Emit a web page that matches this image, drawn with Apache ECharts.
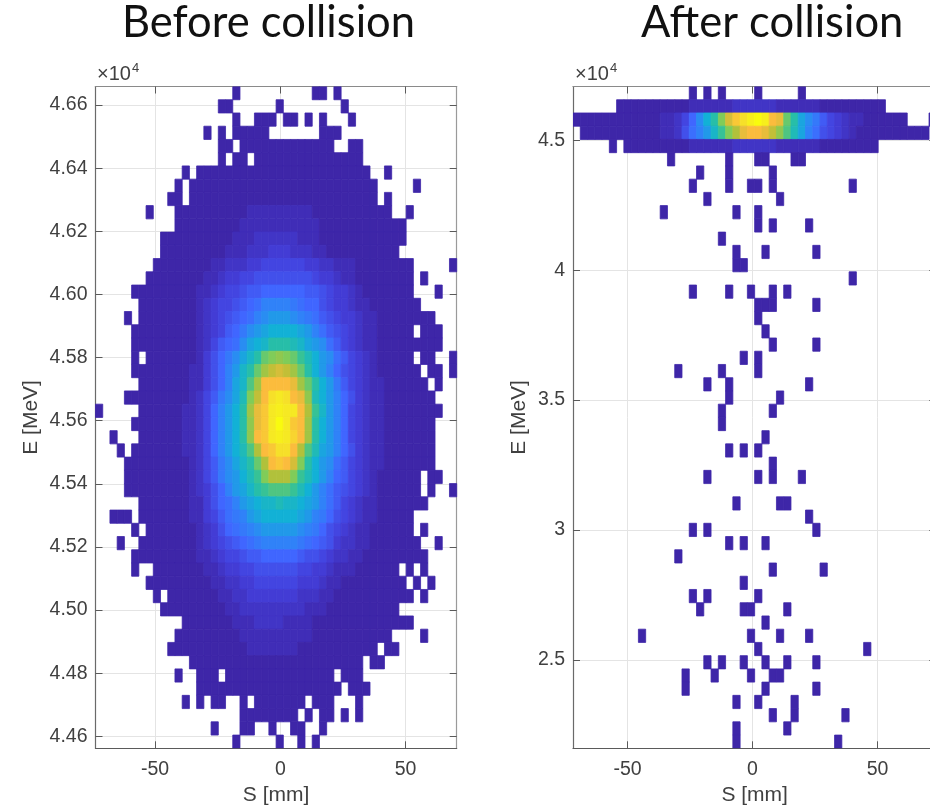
<!DOCTYPE html>
<html>
<head>
<meta charset="utf-8">
<style>html,body{margin:0;padding:0;background:#fff;overflow:hidden}#c{width:930px;height:807px}</style>
<script src="https://cdn.jsdelivr.net/npm/echarts@6/dist/echarts.min.js"></script>
</head>
<body>
<div id="c"></div>
<script>
// axis ranges (S in mm, E in MeV) and 50x50 histogram bins
const binCount = 50;
const beforeXRange = [-73.8, 70.4];
const beforeYRange = [44562, 46659];
const afterXRange = [-71.8, 73.5];
const afterYRange = [21604, 47065];

const xTicks = [-50, 0, 50];
const beforeYTicks = [44600, 44800, 45000, 45200, 45400, 45600, 45800, 46000, 46200, 46400, 46600];
const afterYTicks = [25000, 30000, 35000, 40000, 45000];

const colormap = ['#3e26a8', '#4440dc', '#4066ff', '#2d87f7', '#12b1d6', '#2bc0a0',
  '#80cc59', '#b9bf36', '#fbbc3d', '#f5e626', '#f9fb0e'];
const maxLevel = 35;

// occupied columns of each histogram row, top row first
const beforeCols = [
  "19 30-31 33", "17-18 25 34", "19 22-24 26-27 29 31 35", "15 17 19-23 31-33", "17-18 20-32 35-36",
  "17 19-20 22-36", "12 14-37 40", "11 13-38 44", "10-11 13-38 40", "7 11-40 43",
  "11-42", "9-42", "9-41", "8-43 49", "7-43 45",
  "5-43 47", "6-44", "4 6-46", "5-43 45-47", "5-47",
  "5 7-43 45-46 49", "5-44 46-47 49", "6-45 47", "4-46", "0 6-47",
  "5-46", "2 6-46", "3 5-46", "4-46", "4-44 46-47",
  "4-44 46 49", "6-45", "2-4 6-43", "5 7-43 45", "3 6-44 47",
  "5-45", "5 8-41 43 45", "7-42 44 46", "8 10-43 45", "9-41",
  "12-43", "11-40 45", "10-38 40-41", "13-36 38-39", "11 14-16 18-32 34-36",
  "14-33 35-37", "12 14 16-17 20 22-28 30-32 36", "20-27 29 31-32 34 36", "16 20-21 24 27-28 31", "19 25 28 30"
];

// colour level per cell in base 36 (0 darkest, z peak), starting at column 10
const levelStartCol = 10;
const beforeLevels = [
  "", "", "", "", "", "", "", "", "",
  "00000 00000 01111 11111 00000",
  "00000 00000 11111 11111 10000",
  "00000 00001 11222 22211 10000",
  "00000 00011 12223 33222 11000 00000",
  "00000 01122 23344 44443 32211 10000",
  "00000 11233 44555 55555 43321 10000",
  "00001 12344 56677 77776 65433 21000",
  "00001 23445 678aa aa987 75433 21100",
  "00001 23456 78abc ccba9 86543 32110",
  "00001 23467 9bcde eeedc a8654 32110",
  "00001 24678 bdefh hhgfd cb864 32110",
  "00001 3579b dfhkl mlkig ecb86 43210 00",
  "00011 357ac fhknp qpnkh eca75 43210 00",
  "00011 357ad fjnss ssrnk hec96 43211",
  "00012 469bd glpsv wvsrm geca7 53211",
  "00112 47ace hnrtw xwwso ifca7 43211",
  "00112 47ace hmrtw zwtsn heca7 43211",
  "00112 47ace hmstw xwusn heca7 43211",
  "00112 47ace gjost vvsoj gdca7 53211",
  "00012 469bd fhkos tsqlh ecb86 43211",
  "00012 469bc egilo oolig eca76 43210",
  "00012 357ac dfhij jjige ca865 43210",
  "00011 3578a cdeff gffed ca864 32110",
  "00011 34689 acdee eeedc a9754 32110",
  "00001 23578 9abcc cccba 97543 21100",
  "00001 23456 789aa aaa98 76532 21100",
  "00001 12344 56677 77765 54322 11000",
  "00000 11233 44555 55544 33211 10000",
  "00000 01122 33444 44433 32110 00000",
  "00000 00112 23333 33322 21100 00000",
  "00000 00011 22222 22221 11000 00000",
  "00000 00001 11222 21111 00000",
  "00000 00000 11111 11111 00000",
  "00000 00000 01111 11100 00000"
];

const afterCols = [
  "16 18 20 25 31", "6-42", "0-45 49", "1-48", "5 7-41",
  "13 21 25-26 30-31", "17 21 27", "16 21 24-25 27 38", "18 28", "12 22 25",
  "25 27 32", "20", "22 26 33", "22-23", "38",
  "16 21 24 27 29", "25-27 33", "25", "26", "27 33",
  "23 25", "14 20 25", "18 21 32", "21 28", "20 27",
  "20", "26", "21 23 25", "27", "18 25 27 31",
  "", "22 28-29", "32", "16 18 33", "21 23 26",
  "14", "27 34", "23", "16 18 25", "17 23-24 29",
  "26", "9 24 28 32", "25 40", "18 20 23 26 29 33", "15 19 24 27-28",
  "15 26 33", "22 25 30", "27 30 37", "22 29", "22 36"
];

const afterLevels = [
  "",
  "00000 01111 11222 22211 11110 00000",
  "00112 47beh lqtvx zxsrk hdb96 43211",
  "00112 58acf ilors srpmj gda85 43210",
  "00000 01111 11222 22211 11110 00000"
];

function buildCells(colRuns, levels, xRange, yRange) {
  const binW = (xRange[1] - xRange[0]) / binCount;
  const binH = (yRange[1] - yRange[0]) / binCount;
  const cells = [];
  colRuns.forEach((runs, row) => {
    const lv = (levels[row] || '').replace(/ /g, '');
    runs.split(' ').filter(Boolean).forEach(run => {
      const p = run.split('-').map(Number);
      const end = p.length > 1 ? p[1] : p[0];
      for (let col = p[0]; col <= end; col++) {
        const ch = lv[col - levelStartCol];
        const level = ch ? parseInt(ch, 36) : 0;
        cells.push([xRange[0] + (col + 0.5) * binW, yRange[1] - (row + 0.5) * binH, level]);
      }
    });
  });
  return { cells, binW, binH };
}

const before = buildCells(beforeCols, beforeLevels, beforeXRange, beforeYRange);
const after = buildCells(afterCols, afterLevels, afterXRange, afterYRange);

function cellSeries(hist, axisIndex) {
  return {
    type: 'custom',
    coordinateSystem: 'cartesian2d',
    xAxisIndex: axisIndex,
    yAxisIndex: axisIndex,
    clip: true,
    silent: true,
    encode: { x: 0, y: 1 },
    data: hist.cells,
    renderItem(params, api) {
      const x = api.value(0), y = api.value(1);
      const a = api.coord([x - hist.binW / 2, y + hist.binH / 2]);
      const b = api.coord([x + hist.binW / 2, y - hist.binH / 2]);
      const color = api.visual('color');
      return {
        type: 'rect',
        shape: { x: a[0], y: a[1], width: b[0] - a[0], height: b[1] - a[1] },
        style: { fill: color, stroke: color, lineWidth: 0.8 }
      };
    }
  };
}

const textColor = '#404040';
const tickFont = 19.5;
const nameFont = 21;
const tickLine = { show: true, inside: true, length: 7, lineStyle: { color: '#5a5a5a', width: 1 } };
const gridLine = { show: true, lineStyle: { color: '#e4e4e4', width: 1 } };

function xPair(range, gridIndex) {
  const base = { type: 'value', gridIndex, min: range[0], max: range[1] };
  return [
    Object.assign({}, base, {
      position: 'bottom',
      name: 'S [mm]', nameLocation: 'middle', nameGap: 36,
      nameTextStyle: { fontFamily: 'Liberation Sans', fontSize: nameFont, color: textColor },
      axisLine: { show: true, onZero: false, lineStyle: { color: '#5a5a5a', width: 1.2 } },
      axisTick: Object.assign({ customValues: xTicks }, tickLine),
      axisLabel: { customValues: xTicks, margin: 11, fontFamily: 'Liberation Sans', fontSize: tickFont, color: textColor },
      splitLine: gridLine
    }),
    Object.assign({}, base, {
      position: 'top',
      axisLine: { show: true, onZero: false, lineStyle: { color: '#8a8a8a', width: 1.2 } },
      axisTick: Object.assign({ customValues: xTicks }, tickLine),
      axisLabel: { show: false },
      splitLine: { show: false }
    })
  ];
}

function yPair(range, ticks, gridIndex, nameGap, fmt) {
  const base = { type: 'value', gridIndex, min: range[0], max: range[1] };
  return [
    Object.assign({}, base, {
      position: 'left',
      name: 'E [MeV]', nameLocation: 'middle', nameGap,
      nameTextStyle: { fontFamily: 'Liberation Sans', fontSize: nameFont, color: textColor },
      axisLine: { show: true, onZero: false, lineStyle: { color: '#6a6a6a', width: 1.2 } },
      axisTick: Object.assign({ customValues: ticks }, tickLine),
      axisLabel: { customValues: ticks, margin: 8, formatter: fmt, fontFamily: 'Liberation Sans', fontSize: tickFont, color: textColor },
      splitLine: gridLine
    }),
    Object.assign({}, base, {
      position: 'right',
      axisLine: { show: true, onZero: false, lineStyle: { color: '#9a9a9a', width: 1.2 } },
      axisTick: Object.assign({ customValues: ticks }, tickLine),
      axisLabel: { show: false },
      splitLine: { show: false }
    })
  ];
}

function headline(text, left) {
  return { text, left, top: 1, padding: 0, textStyle: { fontFamily: 'Lato', fontWeight: 'normal', fontSize: 43.5, color: '#111' } };
}
function exponent(left) {
  return [
    { text: '×10', left, top: 64, padding: 0, textStyle: { fontFamily: 'Liberation Sans', fontWeight: 'normal', fontSize: 20, color: textColor } },
    { text: '4', left: left + 35, top: 62, padding: 0, textStyle: { fontFamily: 'Liberation Sans', fontWeight: 'normal', fontSize: 13, color: textColor } }
  ];
}

const chart = echarts.init(document.getElementById('c'), null, { renderer: 'canvas' });
chart.setOption({
  animation: false,
  backgroundColor: '#fff',
  title: [headline('Before collision', 122), headline('After collision', 641)].concat(exponent(97), exponent(575)),
  grid: [
    { left: 95.5, top: 86.5, width: 361.2, height: 661.8, outerBoundsMode: 'none' },
    { left: 573, top: 86.5, width: 363.3, height: 661.8, outerBoundsMode: 'none' }
  ],
  xAxis: xPair(beforeXRange, 0).concat(xPair(afterXRange, 1)),
  yAxis: yPair(beforeYRange, beforeYTicks, 0, 54, v => (v / 1e4).toFixed(2))
    .concat(yPair(afterYRange, afterYTicks, 1, 43, v => String(v / 1e4))),
  visualMap: {
    show: false, type: 'continuous', min: 0, max: maxLevel, dimension: 2,
    seriesIndex: [0, 1], inRange: { color: colormap }
  },
  series: [
    cellSeries(before, 0),
    cellSeries(after, 2)
  ]
});
</script>
</body>
</html>
